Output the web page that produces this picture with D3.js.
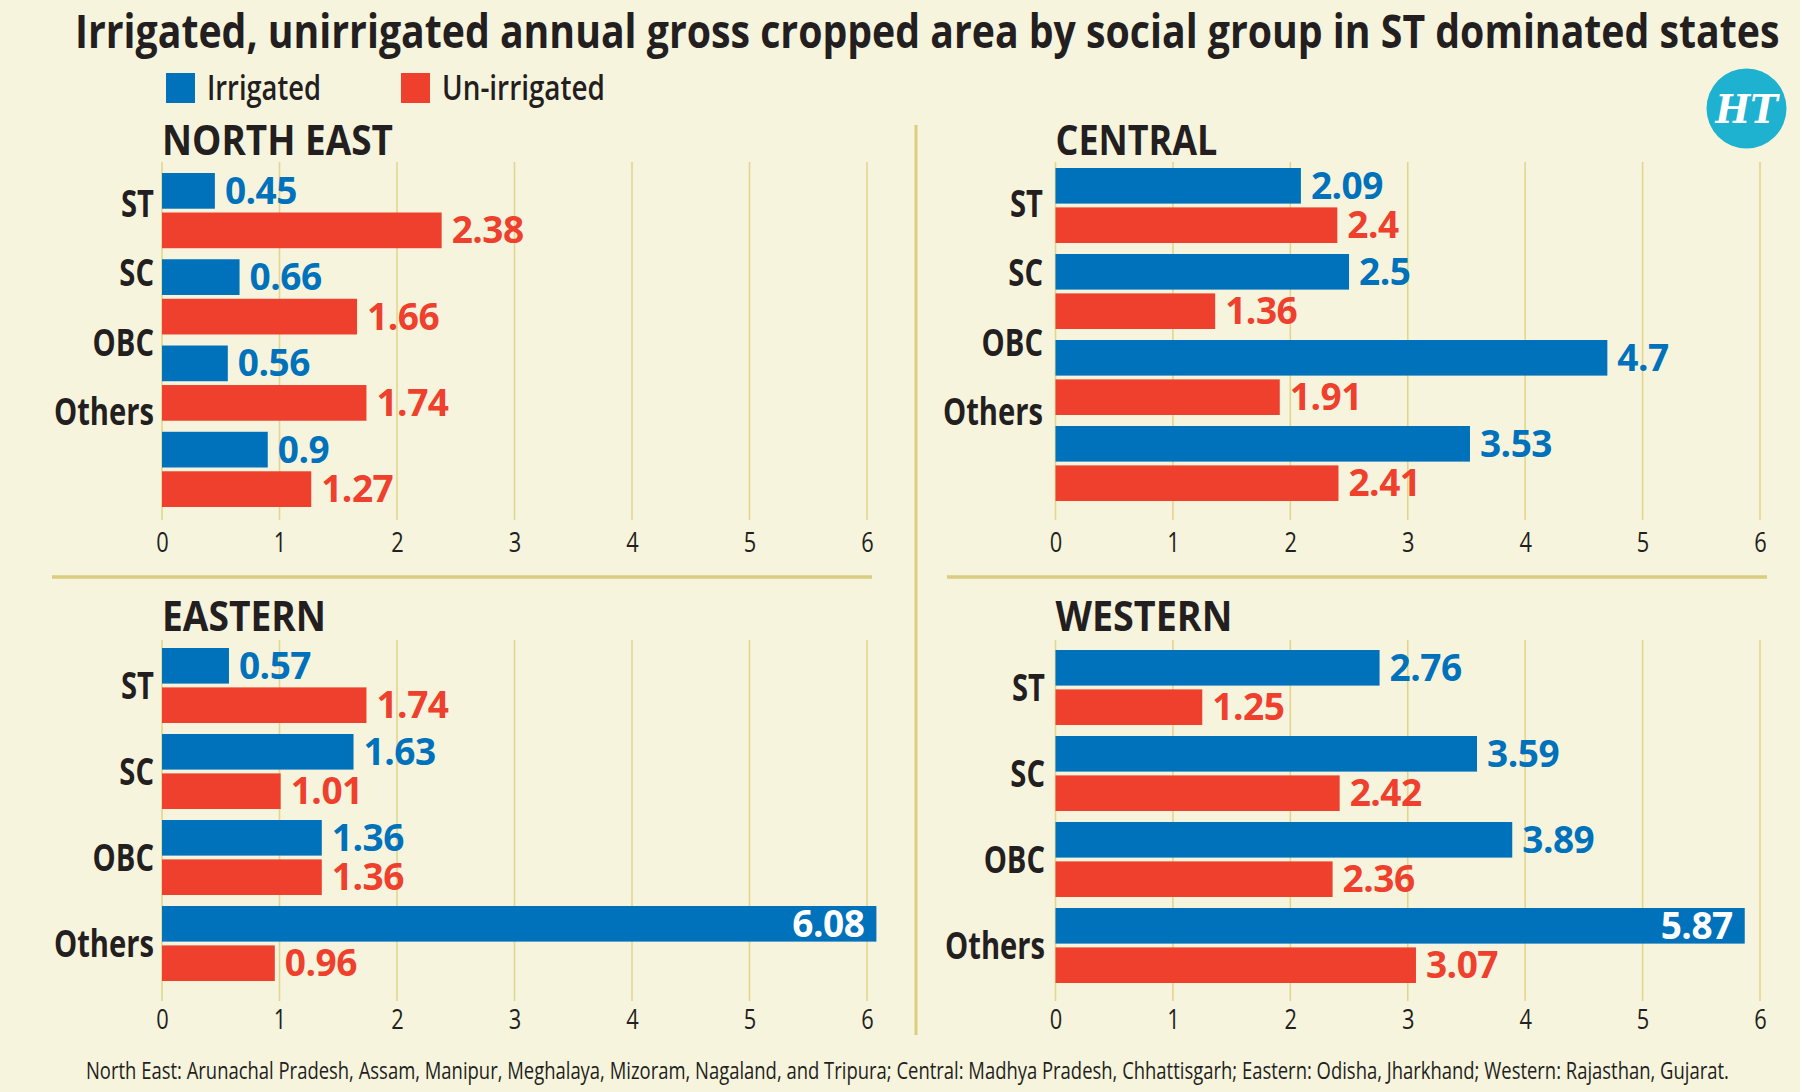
<!DOCTYPE html>
<html>
<head>
<meta charset="utf-8">
<script src="https://cdn.jsdelivr.net/npm/d3@7"></script>
<style>
  html, body { margin: 0; padding: 0; background: #f7f4de; }
  svg { display: block; }
</style>
</head>
<body>
<svg id="chart" width="1800" height="1092"></svg>
<script>
// ---------------- DATA ----------------
const categories = ["ST", "SC", "OBC", "Others"];
const seriesNames = ["Irrigated", "Un-irrigated"];
const xTicks = [0, 1, 2, 3, 4, 5, 6];

const northEastIrrigated   = [0.45, 0.66, 0.56, 0.9];
const northEastUnirrigated = [2.38, 1.66, 1.74, 1.27];
const centralIrrigated     = [2.09, 2.5, 4.7, 3.53];
const centralUnirrigated   = [2.4, 1.36, 1.91, 2.41];
const easternIrrigated     = [0.57, 1.63, 1.36, 6.08];
const easternUnirrigated   = [1.74, 1.01, 1.36, 0.96];
const westernIrrigated     = [2.76, 3.59, 3.89, 5.87];
const westernUnirrigated   = [1.25, 2.42, 2.36, 3.07];

const titleText = "Irrigated, unirrigated annual gross cropped area by social group in ST dominated states";
const footnoteText = "North East: Arunachal Pradesh, Assam, Manipur, Meghalaya, Mizoram, Nagaland, and Tripura; Central: Madhya Pradesh, Chhattisgarh; Eastern: Odisha, Jharkhand; Western: Rajasthan, Gujarat.";

// ---------------- STYLE ----------------
const BG = "#f7f4de";
const BLUE = "#0071bb";
const RED = "#ee402d";
const INK = "#231f20";
const GRID = "#e2d68e";
const RULE = "#d9cd80";
const FONT = "'Open Sans','Noto Sans','Liberation Sans',sans-serif";

const svg = d3.select("#chart");
svg.append("rect").attr("width", 1800).attr("height", 1092).attr("fill", BG);

// horizontal squeeze around each text's own anchor x (keeps bbox honest)
function squeeze(sel, k) {
  sel.each(function () {
    const x = +(this.getAttribute("x") || 0);
    d3.select(this).attr("transform", `translate(${x * (1 - k)},0) scale(${k},1)`);
  });
  return sel;
}
function fitWidth(sel, target) {
  sel.each(function () {
    const w = this.getComputedTextLength();
    squeeze(d3.select(this), target / w);
  });
  return sel;
}
function measure(txt, size, weight) {
  const t = svg.append("text").attr("font-family", FONT).attr("font-size", size)
    .attr("font-weight", weight).text(txt);
  const w = t.node().getComputedTextLength();
  t.remove();
  return w;
}

// ---------------- HEADER ----------------
fitWidth(svg.append("text")
  .attr("x", 75).attr("y", 48)
  .attr("font-family", FONT).attr("font-weight", "bold").attr("font-size", 46)
  .attr("fill", INK).text(titleText), 1705);

const legendScale = d3.scaleOrdinal().domain(seriesNames).range([166, 401]);
const colorScale = d3.scaleOrdinal().domain(seriesNames).range([BLUE, RED]);
const legendTextW = d3.scaleOrdinal().domain(seriesNames).range([114, 163]);
const lg = svg.append("g");
seriesNames.forEach(s => {
  lg.append("rect").attr("x", legendScale(s)).attr("y", 73).attr("width", 29).attr("height", 30).attr("fill", colorScale(s));
  fitWidth(lg.append("text").attr("x", legendScale(s) + 41).attr("y", 100)
    .attr("font-family", FONT).attr("font-weight", 600).attr("font-size", 34)
    .attr("fill", INK).text(s), legendTextW(s));
});

// HT logo
svg.append("circle").attr("cx", 1746.5).attr("cy", 108.5).attr("r", 40).attr("fill", "#1fb1d0");
svg.append("text").attr("x", 1746.5).attr("y", 123).attr("text-anchor", "middle")
  .attr("font-family", "'DejaVu Serif','Liberation Serif',serif").attr("font-weight", "bold")
  .attr("font-style", "italic").attr("font-size", 40).attr("fill", "#ffffff")
  .attr("textLength", 62).attr("lengthAdjust", "spacingAndGlyphs").text("HT");

// dividers
svg.append("line").attr("x1", 916).attr("x2", 916).attr("y1", 125).attr("y2", 1035).attr("stroke", RULE).attr("stroke-width", 3);
svg.append("line").attr("x1", 52).attr("x2", 872).attr("y1", 577).attr("y2", 577).attr("stroke", RULE).attr("stroke-width", 3.5);
svg.append("line").attr("x1", 947).attr("x2", 1767).attr("y1", 577).attr("y2", 577).attr("stroke", RULE).attr("stroke-width", 3.5);

// ---------------- PANELS ----------------
const panels = [
  { title: "NORTH EAST", titleW: 231, irr: northEastIrrigated, un: northEastUnirrigated,
    xr: [162, 867], yr: [173, 507], grid: [162, 520], tickY: 552, titleY: 155, labelRight: 154, labelRange: [203, 411] },
  { title: "CENTRAL", titleW: 162, irr: centralIrrigated, un: centralUnirrigated,
    xr: [1055.5, 1760], yr: [168, 501], grid: [162, 520], tickY: 552, titleY: 155, labelRight: 1043, labelRange: [203, 411] },
  { title: "EASTERN", titleW: 164, irr: easternIrrigated, un: easternUnirrigated,
    xr: [162, 867], yr: [648, 981], grid: [640, 1001], tickY: 1029, titleY: 631, labelRight: 154, labelRange: null },
  { title: "WESTERN", titleW: 177, irr: westernIrrigated, un: westernUnirrigated,
    xr: [1055.5, 1760], yr: [650, 983], grid: [640, 1001], tickY: 1029, titleY: 631, labelRight: 1045, labelRange: null }
];

const CAT_FS = 38, VAL_FS = 37, TICK_FS = 27;
const catK = 100 / measure("Others", CAT_FS, "bold");
const tickK = 12.5 / measure("5", TICK_FS, "normal");

panels.forEach(p => {
  const g = svg.append("g");
  const x = d3.scaleLinear().domain([0, 6]).range(p.xr);
  const y = d3.scaleBand().domain(categories).range(p.yr).paddingInner(0.128).paddingOuter(0);
  const ys = d3.scaleBand().domain(seriesNames).range([0, y.bandwidth()]).paddingInner(0.096).paddingOuter(0);

  // gridlines
  g.selectAll("line.grid").data(xTicks).join("line")
    .attr("x1", d => x(d)).attr("x2", d => x(d))
    .attr("y1", p.grid[0]).attr("y2", p.grid[1])
    .attr("stroke", GRID).attr("stroke-width", 1.6);

  // axis tick labels
  const axis = d3.axisBottom(x).tickValues(xTicks).tickSize(0).tickPadding(0).tickFormat(d3.format("d"));
  const ax = g.append("g").attr("transform", `translate(0,${p.tickY})`).call(axis);
  ax.select(".domain").remove();
  ax.selectAll("text").attr("dy", 0).attr("y", 0)
    .attr("font-family", FONT).attr("font-size", TICK_FS).attr("fill", INK);
  squeeze(ax.selectAll("text"), tickK);

  // panel title
  fitWidth(g.append("text").attr("x", p.xr[0]).attr("y", p.titleY)
    .attr("font-family", FONT).attr("font-weight", "bold").attr("font-size", 41)
    .attr("fill", INK).text(p.title), p.titleW);

  // category labels
  const labelY = p.labelRange
    ? d3.scalePoint().domain(categories).range(p.labelRange)
    : (c => y(c) + y.bandwidth() / 2);
  const cl = g.selectAll("text.cat").data(categories).join("text")
    .attr("x", p.labelRight).attr("y", d => labelY(d) + 14)
    .attr("text-anchor", "end")
    .attr("font-family", FONT).attr("font-weight", "bold").attr("font-size", CAT_FS)
    .attr("fill", INK).text(d => d);
  squeeze(cl, catK);

  // bars
  const rows = [];
  categories.forEach((c, i) => {
    rows.push({ cat: c, s: seriesNames[0], v: p.irr[i] });
    rows.push({ cat: c, s: seriesNames[1], v: p.un[i] });
  });
  g.selectAll("rect.bar").data(rows).join("rect")
    .attr("x", x(0)).attr("y", d => y(d.cat) + ys(d.s))
    .attr("width", d => x(d.v) - x(0)).attr("height", ys.bandwidth())
    .attr("fill", d => colorScale(d.s));

  // value labels
  g.selectAll("text.val").data(rows).join("text")
    .attr("x", d => d.v > 5.5 ? x(d.v) - 12 : x(d.v) + 10)
    .attr("y", d => y(d.cat) + ys(d.s) + ys.bandwidth() / 2 + 13)
    .attr("text-anchor", d => d.v > 5.5 ? "end" : "start")
    .attr("font-family", FONT).attr("font-weight", "bold").attr("font-size", VAL_FS)
    .attr("letter-spacing", -0.5)
    .attr("fill", d => d.v > 5.5 ? "#ffffff" : colorScale(d.s))
    .text(d => String(d.v));
});

// ---------------- FOOTNOTE ----------------
fitWidth(svg.append("text").attr("x", 86).attr("y", 1079)
  .attr("font-family", FONT).attr("font-size", 24).attr("fill", INK).text(footnoteText), 1644);
</script>
</body>
</html>
